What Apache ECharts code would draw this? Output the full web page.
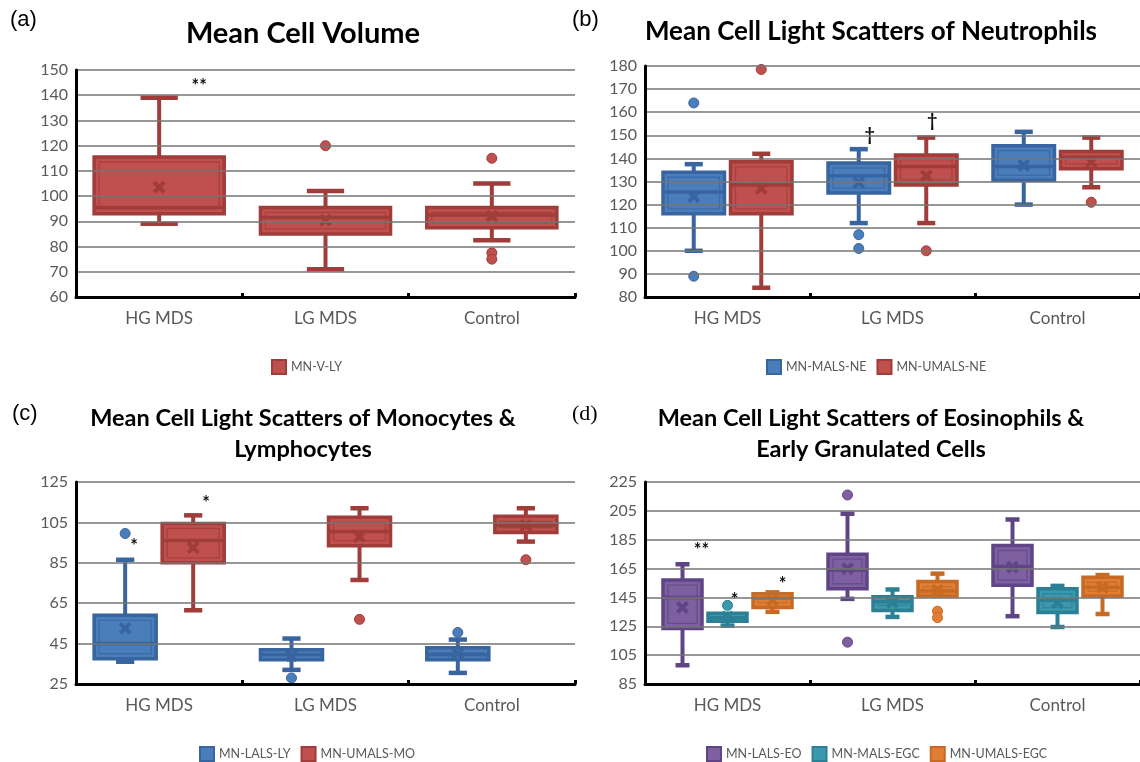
<!DOCTYPE html>
<html>
<head>
<meta charset="utf-8">
<script src="https://cdn.jsdelivr.net/npm/echarts@6/dist/echarts.min.js"></script>
<style>html,body{margin:0;padding:0;background:#fff}#c{width:1140px;height:762px}</style>
</head>
<body>
<div id="c"></div>
<script>
// ---------- data ----------
const categories = ['HG MDS', 'LG MDS', 'Control'];

const ticksA = [60, 70, 80, 90, 100, 110, 120, 130, 140, 150];
const ticksB = [80, 90, 100, 110, 120, 130, 140, 150, 160, 170, 180];
const ticksC = [25, 45, 65, 85, 105, 125];
const ticksD = [85, 105, 125, 145, 165, 185, 205, 225];

// box data: [min, Q1, median, Q3, max] per category
const mnVLY_box = [[89, 93, 95.5, 115.5, 139], [71, 85, 91.5, 95.5, 102], [82.5, 87.5, 92.5, 95.5, 105]];
const mnVLY_mean = [103.5, 90.5, 92];
const mnVLY_out = [[], [120], [115, 77.5, 75]];

const mnMALSNE_box = [[100, 116, 125.5, 134, 137.5], [112, 125, 132.5, 138, 144], [120, 130.5, 136.5, 145.5, 151.5]];
const mnMALSNE_mean = [123.5, 129.5, 137];
const mnMALSNE_out = [[164, 89], [107, 101], []];
const mnUMALSNE_box = [[84, 116, 128.5, 138.5, 142], [112, 128.5, 136.5, 141.5, 149], [127.5, 135.5, 140.5, 143, 149]];
const mnUMALSNE_mean = [127, 132.5, 138.5];
const mnUMALSNE_out = [[178.5], [100], [121]];

const mnLALSLY_box = [[36, 37.5, 45, 59, 86.5], [32, 37, 39.5, 42, 47.5], [30.5, 37, 39.5, 43, 47]];
const mnLALSLY_mean = [52.5, 39, 40];
const mnLALSLY_out = [[99.5], [28], [50.5]];
const mnUMALSMO_box = [[61.5, 85, 96, 104.5, 108.5], [76.5, 93.5, 100.5, 107.5, 112], [95.5, 100, 103.5, 108, 112]];
const mnUMALSMO_mean = [92.5, 98, 103.5];
const mnUMALSMO_out = [[], [57], [86.5]];

const mnLALSEO_box = [[98, 123.5, 145, 157, 168], [144, 151, 164, 175, 203], [132, 153.5, 166.5, 181, 199]];
const mnLALSEO_mean = [138, 165, 166];
const mnLALSEO_out = [[], [216, 114], []];
const mnMALSEGC_box = [[125.5, 128.5, 131, 134, 134], [131.5, 136, 142, 145.5, 150.5], [124.5, 134.5, 143, 151, 153]];
const mnMALSEGC_mean = [131.5, 141.5, 141.5];
const mnMALSEGC_out = [[139.5], [], []];
const mnUMALSEGC_box = [[135, 138, 144.5, 147.5, 148.5], [146, 146, 149.5, 156, 161.5], [133.5, 146, 152, 159, 160.5]];
const mnUMALSEGC_mean = [143, 150, 152];
const mnUMALSEGC_out = [[], [135.5, 131], []];

// significance marks: [series index in panel, category index, value, text]
const annA = [[0, 0, 143.5, '**']];
const annB = [[0, 1, 150, '†'], [1, 1, 156, '†']];
const annC = [[0, 0, 93, '*'], [1, 0, 114.5, '*']];
const annD = [[0, 0, 178, '**'], [1, 0, 143, '*'], [2, 0, 154.5, '*']];

// ---------- styles / layout ----------
const RED = {fill: '#C0504D', dark: '#A03C39'};
const BLUE = {fill: '#4A7EBB', dark: '#3864A0'};
const PURPLE = {fill: '#7E60A0', dark: '#5F4585'};
const TEAL = {fill: '#3C98AD', dark: '#2B8095'};
const ORANGE = {fill: '#E07E36', dark: '#C76A23'};

const FONT = 'Lato, "Open Sans", sans-serif';

const panels = [
  {label: '(a)', labelFont: '"Liberation Sans", Arial, sans-serif', labelPos: [10, 9],
   title: 'Mean Cell Volume', titlePos: [303, 16], titleSize: 29, titleLH: 36,
   grid: {left: 76, top: 70, width: 499, height: 227}, ticks: ticksA,
   legendPos: [271, 359], ann: annA, annDx: [40],
   series: [{name: 'MN-V-LY', box: mnVLY_box, mean: mnVLY_mean, out: mnVLY_out, color: RED}]},
  {label: '(b)', labelFont: '"Liberation Sans", Arial, sans-serif', labelPos: [572, 9],
   title: 'Mean Cell Light Scatters of Neutrophils', titlePos: [871, 15], titleSize: 26, titleLH: 34,
   grid: {left: 645, top: 66, width: 495, height: 231}, ticks: ticksB,
   legendPos: [766, 359], ann: annB, annDx: [11, 6],
   series: [{name: 'MN-MALS-NE', box: mnMALSNE_box, mean: mnMALSNE_mean, out: mnMALSNE_out, color: BLUE},
            {name: 'MN-UMALS-NE', box: mnUMALSNE_box, mean: mnUMALSNE_mean, out: mnUMALSNE_out, color: RED}]},
  {label: '(c)', labelFont: '"Liberation Sans", Arial, sans-serif', labelPos: [12, 403],
   title: 'Mean Cell Light Scatters of Monocytes &\nLymphocytes', titlePos: [303, 403], titleSize: 23.5, titleLH: 31,
   grid: {left: 76, top: 482, width: 499, height: 202}, ticks: ticksC,
   legendPos: [199, 746], ann: annC, annDx: [9, 13],
   series: [{name: 'MN-LALS-LY', box: mnLALSLY_box, mean: mnLALSLY_mean, out: mnLALSLY_out, color: BLUE},
            {name: 'MN-UMALS-MO', box: mnUMALSMO_box, mean: mnUMALSMO_mean, out: mnUMALSMO_out, color: RED}]},
  {label: '(d)', labelFont: '"Liberation Serif", "Times New Roman", serif', labelPos: [572, 403],
   title: 'Mean Cell Light Scatters of Eosinophils &\nEarly Granulated Cells', titlePos: [871, 403], titleSize: 23.5, titleLH: 31,
   grid: {left: 645, top: 482, width: 495, height: 202}, ticks: ticksD,
   legendPos: [706, 746], ann: annD, annDx: [19, 7, 10],
   series: [{name: 'MN-LALS-EO', box: mnLALSEO_box, mean: mnLALSEO_mean, out: mnLALSEO_out, color: PURPLE},
            {name: 'MN-MALS-EGC', box: mnMALSEGC_box, mean: mnMALSEGC_mean, out: mnMALSEGC_out, color: TEAL},
            {name: 'MN-UMALS-EGC', box: mnUMALSEGC_box, mean: mnUMALSEGC_mean, out: mnUMALSEGC_out, color: ORANGE}]}
];

// ---------- geometry helpers ----------
function slot(api, cat, k, n) {
  const band = api.size([1, 0])[0];
  const c = api.coord([cat, 0])[0];
  const total = band * 0.8;
  const gap = n > 1 ? 3 : 0;
  const w = (total - gap * (n - 1)) / n;
  const left = c - total / 2 + k * (w + gap);
  return {left: left, w: w, cx: left + w / 2};
}

function boxRender(k, n, col) {
  return function (params, api) {
    const cat = api.value(0);
    const s = slot(api, cat, k, n);
    const y = v => api.coord([cat, v])[1];
    const mn = api.value(1), q1 = api.value(2), md = api.value(3), q3 = api.value(4), mx = api.value(5), mean = api.value(6);
    const capW = Math.max(14, s.w * 0.28);
    const lw = 4;
    const ch = [];
    const line = (x1, y1, x2, y2, w, c, op) => ch.push({type: 'line', shape: {x1: x1, y1: y1, x2: x2, y2: y2},
      style: {stroke: c || col.dark, lineWidth: w || lw, opacity: op == null ? 1 : op}});
    if (mx > q3) {
      line(s.cx, y(q3), s.cx, y(mx));
      line(s.cx - capW / 2, y(mx), s.cx + capW / 2, y(mx), 4.5);
    }
    if (mn < q1) {
      line(s.cx, y(q1), s.cx, y(mn));
      line(s.cx - capW / 2, y(mn), s.cx + capW / 2, y(mn), 4.5);
    }
    const top = y(q3), bot = y(q1);
    ch.push({type: 'rect', shape: {x: s.left + 1.5, y: top, width: s.w - 3, height: bot - top},
      style: {fill: col.fill, stroke: col.dark, lineWidth: 3.5}});
    const ins = 5;
    if (bot - top > 2 * ins + 2) {
      ch.push({type: 'rect', shape: {x: s.left + 1.5 + ins, y: top + ins, width: s.w - 3 - 2 * ins, height: bot - top - 2 * ins},
        style: {fill: 'none', stroke: col.dark, lineWidth: 1.3, opacity: 0.75}});
    }
    line(s.left + 1.5, y(md), s.left + s.w - 1.5, y(md), 3.5);
    const my = y(mean), r = 5;
    line(s.cx - r, my - r, s.cx + r, my + r, 4);
    line(s.cx - r, my + r, s.cx + r, my - r, 4);
    return {type: 'group', children: ch};
  };
}

function outRender(k, n, col) {
  return function (params, api) {
    const cat = api.value(0);
    const s = slot(api, cat, k, n);
    const p = api.coord([cat, api.value(1)]);
    return {type: 'circle', shape: {cx: s.cx, cy: p[1], r: 5}, style: {fill: col.fill, stroke: col.dark, lineWidth: 1}};
  };
}

function annRender(p) {
  return function (params, api) {
    const a = p.ann[params.dataIndex];
    const cat = api.value(0);
    const s = slot(api, cat, a[0], p.series.length);
    const yy = api.coord([cat, api.value(1)])[1];
    return {type: 'text', x: s.cx + p.annDx[params.dataIndex], y: yy,
      style: {text: a[3], fill: '#111', font: 'bold 18px ' + FONT, align: 'center', verticalAlign: 'middle'}};
  };
}

// ---------- option ----------
const grids = [], xAxes = [], yAxes = [], titles = [], legends = [], series = [];

panels.forEach((p, pi) => {
  grids.push(Object.assign({containLabel: false}, p.grid));
  titles.push({text: p.label, left: p.labelPos[0], top: p.labelPos[1], padding: 0,
    textStyle: {fontFamily: p.labelFont, fontSize: 22, fontWeight: 'normal', color: '#000'}});
  titles.push({text: p.title, left: p.titlePos[0], top: p.titlePos[1], padding: 0, textAlign: 'center',
    textStyle: {fontFamily: FONT, fontSize: p.titleSize, fontWeight: 'bold', color: '#000', lineHeight: p.titleLH}});
  xAxes.push({type: 'category', gridIndex: pi, data: categories,
    axisLine: {lineStyle: {color: '#000', width: 3}},
    axisTick: {show: true, inside: true, length: 4, lineStyle: {color: '#000', width: 3}},
    axisLabel: {color: '#595959', fontSize: 17, fontFamily: FONT, margin: 13},
    splitLine: {show: false}, z: 5});
  const t = p.ticks;
  const step = t[1] - t[0];
  const y = {type: 'value', gridIndex: pi, min: t[0], max: t[t.length - 1],
    axisLine: {show: true, lineStyle: {color: '#000', width: 3}},
    axisTick: {show: false},
    axisLabel: {color: '#595959', fontSize: 16, fontFamily: FONT, margin: 8},
    splitLine: {show: true, lineStyle: {color: '#747474', width: 1.6}}, z: 5};
  if (t[0] % step === 0) {
    y.interval = step;
  } else {
    y.axisLabel.customValues = t;
    y.axisTick.customValues = t;
  }
  yAxes.push(y);
  legends.push({left: p.legendPos[0], top: p.legendPos[1], orient: 'horizontal', icon: 'rect',
    itemWidth: 14, itemHeight: 14, itemGap: 10, padding: 0, selectedMode: false,
    textStyle: {color: '#595959', fontSize: 12.5, fontFamily: FONT},
    data: p.series.map(s => ({name: s.name, itemStyle: {color: s.color.fill, borderColor: s.color.dark, borderWidth: 2}}))});
  const n = p.series.length;
  p.series.forEach((s, k) => {
    series.push({type: 'custom', name: s.name, xAxisIndex: pi, yAxisIndex: pi, z: 2,
      itemStyle: {color: s.color.fill, borderColor: s.color.dark},
      renderItem: boxRender(k, n, s.color),
      encode: {x: 0, y: [1, 2, 3, 4, 5]},
      data: s.box.map((b, i) => [i, b[0], b[1], b[2], b[3], b[4], s.mean[i]])});
    const od = [];
    s.out.forEach((arr, i) => arr.forEach(v => od.push([i, v])));
    series.push({type: 'custom', name: s.name, xAxisIndex: pi, yAxisIndex: pi, z: 3,
      itemStyle: {color: s.color.fill},
      renderItem: outRender(k, n, s.color), encode: {x: 0, y: 1}, data: od});
  });
  series.push({type: 'custom', name: 'annotations ' + p.label, xAxisIndex: pi, yAxisIndex: pi, z: 4,
    renderItem: annRender(p), encode: {x: 0, y: 1}, data: p.ann.map(a => [a[1], a[2]])});
});

const chart = echarts.init(document.getElementById('c'), null, {renderer: 'canvas'});
chart.setOption({
  animation: false,
  backgroundColor: '#fff',
  title: titles, grid: grids, xAxis: xAxes, yAxis: yAxes, legend: legends, series: series
});
</script>
</body>
</html>
